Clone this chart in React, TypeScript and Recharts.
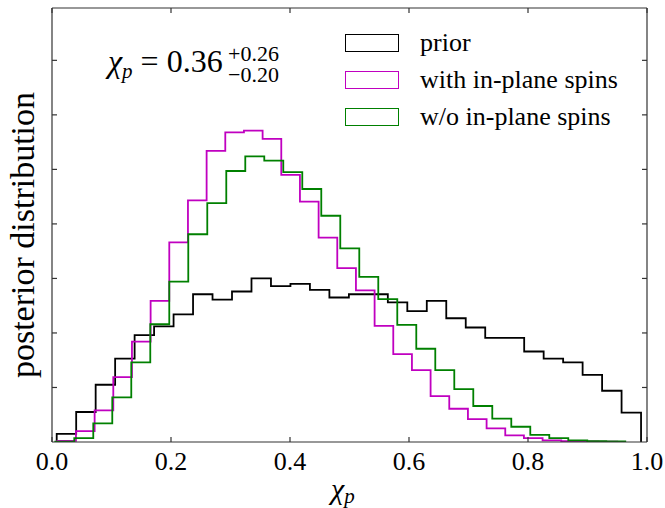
import React from 'react';
import { LineChart, Line, XAxis, YAxis, Legend } from 'recharts';

const FONT = "'Liberation Serif', 'DejaVu Serif', serif";

// x-axis ticks (chi_p) and their labels
const xTicks = [0, 0.2, 0.4, 0.6, 0.8, 1.0];
const xTickLabels = ['0.0', '0.2', '0.4', '0.6', '0.8', '1.0'];
// y-axis ticks (density, labels hidden in the original)
const yTicks = [0.5, 1.0, 1.5, 2.0, 2.5, 3.0, 3.5];
const yDomain = [0, 3.98];

// series names and colours
const seriesNames = ['prior', 'with in-plane spins', 'w/o in-plane spins'];
const seriesColors = ['#000000', '#c000c0', '#008000'];

// histogram ranges [first edge, last edge] (30 equal bins each)
const priorRange = [0.0079, 0.990];
const withRange = [0.0089, 0.950];
const woRange = [0.0055, 0.9635];

// bin heights (posterior density)
const priorDensity = [
  0.075, 0.275, 0.525, 0.765, 0.98, 1.06, 1.17, 1.355, 1.305, 1.38,
  1.50, 1.43, 1.45, 1.395, 1.325, 1.355, 1.355, 1.28, 1.20, 1.295,
  1.135, 1.05, 0.955, 0.955, 0.83, 0.765, 0.73, 0.615, 0.47, 0.27,
];
const withDensity = [
  0.01, 0.10, 0.29, 0.595, 0.92, 1.295, 1.83, 2.215, 2.67, 2.84,
  2.855, 2.78, 2.45, 2.205, 1.875, 1.595, 1.39, 1.065, 0.805, 0.66,
  0.42, 0.305, 0.21, 0.125, 0.06, 0.035, 0.015, 0.008, 0.005, 0.003,
];
const woDensity = [
  0.003, 0.035, 0.17, 0.41, 0.73, 1.08, 1.47, 1.905, 2.19, 2.485,
  2.62, 2.58, 2.475, 2.32, 2.075, 1.775, 1.515, 1.31, 1.075, 0.855,
  0.66, 0.485, 0.33, 0.215, 0.14, 0.065, 0.035, 0.015, 0.008, 0.005,
];

// build a step-histogram outline from uniform bins
function stepOutline(range: number[], heights: number[]) {
  const [lo, hi] = range;
  const w = (hi - lo) / heights.length;
  const pts: { x: number; y: number }[] = [{ x: lo, y: 0 }];
  heights.forEach((h, i) => pts.push({ x: lo + i * w, y: h }));
  pts.push({ x: hi, y: 0 });
  return pts;
}

const seriesData = [
  stepOutline(priorRange, priorDensity),
  stepOutline(withRange, withDensity),
  stepOutline(woRange, woDensity),
];

const AXIS_COLOR = '#333333';

const EmptyTick = () => <g />;

function LegendContent() {
  return (
    <div style={{ fontFamily: FONT, fontSize: 26, color: '#000' }}>
      {seriesNames.map((name, i) => (
        <div key={name} style={{ display: 'flex', alignItems: 'center', height: 37 }}>
          <div
            style={{
              width: 54,
              height: 18,
              boxSizing: 'border-box',
              border: `1.8px solid ${seriesColors[i]}`,
              marginRight: 21,
            }}
          />
          <span style={{ lineHeight: '26px', whiteSpace: 'nowrap' }}>{name}</span>
        </div>
      ))}
    </div>
  );
}

export default function App() {
  return (
    <div style={{ position: 'absolute', left: 0, top: 0, width: 665, height: 508, background: '#fff' }}>
      <LineChart width={665} height={508} margin={{ top: 7, right: 17, bottom: 0, left: 51 }}>
        <XAxis
          xAxisId="b"
          dataKey="x"
          type="number"
          orientation="bottom"
          domain={[0, 1]}
          ticks={xTicks}
          interval={0}
          allowDataOverflow
          height={66}
          tickSize={-5}
          tickMargin={14.5}
          stroke={AXIS_COLOR}
          strokeWidth={1.2}
          tickFormatter={(v: number, i: number) => xTickLabels[i]}
          tick={{ fill: '#000', fontSize: 26, fontFamily: FONT }}
        />
        <XAxis
          xAxisId="t"
          dataKey="x"
          type="number"
          orientation="top"
          domain={[0, 1]}
          ticks={xTicks}
          interval={0}
          allowDataOverflow
          height={1}
          tickSize={-5}
          stroke={AXIS_COLOR}
          strokeWidth={1.2}
          tick={EmptyTick}
        />
        <YAxis
          yAxisId="l"
          type="number"
          orientation="left"
          domain={yDomain}
          ticks={yTicks}
          interval={0}
          allowDataOverflow
          width={1}
          tickSize={-5}
          stroke={AXIS_COLOR}
          strokeWidth={1.2}
          tick={EmptyTick}
        />
        <YAxis
          yAxisId="r"
          type="number"
          orientation="right"
          domain={yDomain}
          ticks={yTicks}
          interval={0}
          allowDataOverflow
          width={1}
          tickSize={-5}
          stroke={AXIS_COLOR}
          strokeWidth={1.2}
          tick={EmptyTick}
        />
        {seriesData.map((d, i) => (
          <Line
            key={seriesNames[i]}
            xAxisId="b"
            yAxisId="l"
            data={d}
            dataKey="y"
            name={seriesNames[i]}
            type="stepAfter"
            stroke={seriesColors[i]}
            strokeWidth={1.8}
            dot={false}
            activeDot={false}
            isAnimationActive={false}
          />
        ))}
        <Legend
          layout="vertical"
          align="center"
          verticalAlign="middle"
          wrapperStyle={{ left: 345, top: 24, width: 'auto', height: 'auto' }}
          content={LegendContent}
        />
        <text
          x={34}
          y={235}
          transform="rotate(-90 34 235)"
          textAnchor="middle"
          fontFamily={FONT}
          fontSize={34}
          fill="#000"
        >
          posterior distribution
        </text>
        <text x={331} y={499} fontFamily={FONT} fontSize={30} fill="#000">
          <tspan fontStyle="italic">χ</tspan>
          <tspan fontStyle="italic" fontSize={21} dy={4}>p</tspan>
        </text>
        <text x={108} y={72} fontFamily={FONT} fontSize={32} fill="#000">
          <tspan fontStyle="italic">χ</tspan>
          <tspan fontStyle="italic" fontSize={21} dy={6}>p</tspan>
          <tspan dy={-6}> = 0.36</tspan>
        </text>
        <text x={228} y={61} fontFamily={FONT} fontSize={22} fill="#000">+0.26</text>
        <text x={228} y={82} fontFamily={FONT} fontSize={22} fill="#000">−0.20</text>
      </LineChart>
    </div>
  );
}
